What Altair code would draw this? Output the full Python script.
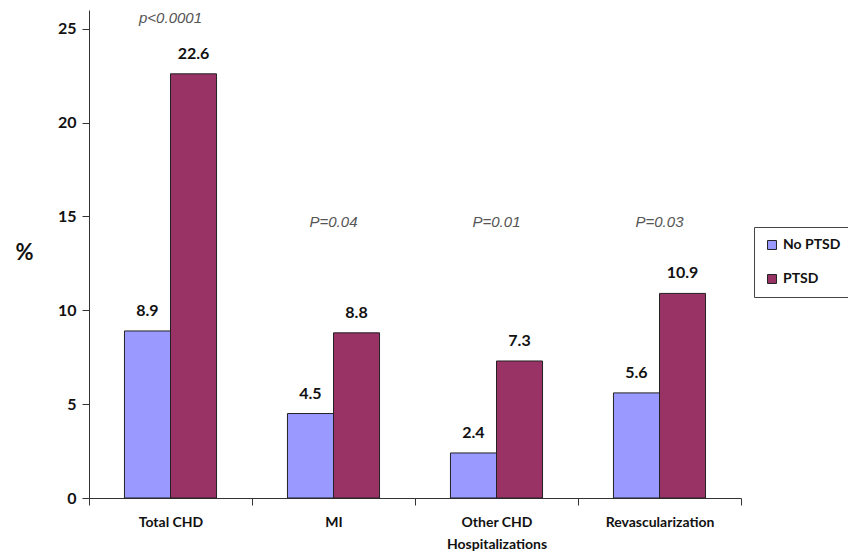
import altair as alt
import pandas as pd

categories = ["Total CHD", "MI", "Other CHD Hospitalizations", "Revascularization"]
groups = ["No PTSD", "PTSD"]
no_ptsd = [8.9, 4.5, 2.4, 5.6]
ptsd = [22.6, 8.8, 7.3, 10.9]
p_labels = ["p<0.0001", "P=0.04", "P=0.01", "P=0.03"]
p_y = [25.6, 14.7, 14.7, 14.7]
colors = ["#9999FF", "#993366"]

rows = []
for c, a, b in zip(categories, no_ptsd, ptsd):
    rows.append({"cat": c, "grp": groups[0], "val": a, "lbl": f"{a:.1f}"})
    rows.append({"cat": c, "grp": groups[1], "val": b, "lbl": f"{b:.1f}"})
df = pd.DataFrame(rows)
pdf = pd.DataFrame({"cat": categories, "p": p_labels, "py": p_y})

xenc = alt.X("cat:N", sort=categories, title=None,
             scale=alt.Scale(paddingInner=0, paddingOuter=0),
             axis=alt.Axis(tickBand="extent", labelAngle=0, labelFont="Lato",
                           labelFontWeight="bold", labelFontSize=14, labelColor="#111",
                           labelPadding=10, labelLineHeight=22, tickSize=7, tickColor="#333",
                           domainColor="#333",
                           labelExpr="datum.value == 'Other CHD Hospitalizations' ? ['Other CHD', 'Hospitalizations'] : datum.value"))
xoff = alt.XOffset("grp:N", sort=groups, scale=alt.Scale(paddingOuter=0.77, paddingInner=0))
yenc = alt.Y("val:Q", title="%", scale=alt.Scale(domain=[0, 25]),
             axis=alt.Axis(values=[0, 5, 10, 15, 20, 25], grid=False, labelFont="Lato",
                           labelFontWeight="bold", labelFontSize=16, labelColor="#111",
                           tickSize=7, tickColor="#333", domainColor="#333", labelPadding=6,
                           titleAngle=0, titleFont="Lato", titleFontSize=22, titleFontWeight="bold",
                           titleColor="#111", titleY=242, titleX=-65, titleAlign="center",
                           titleBaseline="middle"))

bars = alt.Chart(df).mark_bar(stroke="#222", strokeWidth=1).encode(
    x=xenc, xOffset=xoff, y=yenc,
    color=alt.Color("grp:N", sort=groups, scale=alt.Scale(domain=groups, range=colors),
                    legend=alt.Legend(title=None, orient="none", legendX=665, legendY=217,
                                      symbolType="square", symbolSize=80, symbolStrokeColor="#222",
                                      symbolStrokeWidth=1, symbolOffset=0, labelOffset=4,
                                      labelFont="Lato", labelFontWeight="bold",
                                      labelFontSize=14, labelColor="#111", strokeColor="#444",
                                      padding=11, rowPadding=20, fillColor="white"))
)

vals = alt.Chart(df).mark_text(font="Lato", fontWeight="bold", fontSize=16, color="#111",
                               baseline="bottom", dy=-12).encode(
    x=alt.X("cat:N", sort=categories), xOffset=alt.XOffset("grp:N", sort=groups),
    y=alt.Y("val:Q"), text="lbl:N")

ps = alt.Chart(pdf).mark_text(font="Liberation Sans", fontStyle="italic", fontSize=15,
                              color="#555", baseline="middle").encode(
    x=alt.X("cat:N", sort=categories), y=alt.Y("py:Q"), text="p:N")

chart = alt.layer(bars, vals, ps).properties(
    width=840, height=543,
    autosize=alt.AutoSizeParams(type="fit", contains="padding"),
    padding={"left": 6, "top": 2, "right": 106, "bottom": 0}
).configure_view(stroke=None)

chart.save("out.html", embed_options={"renderer": "svg", "actions": False})
